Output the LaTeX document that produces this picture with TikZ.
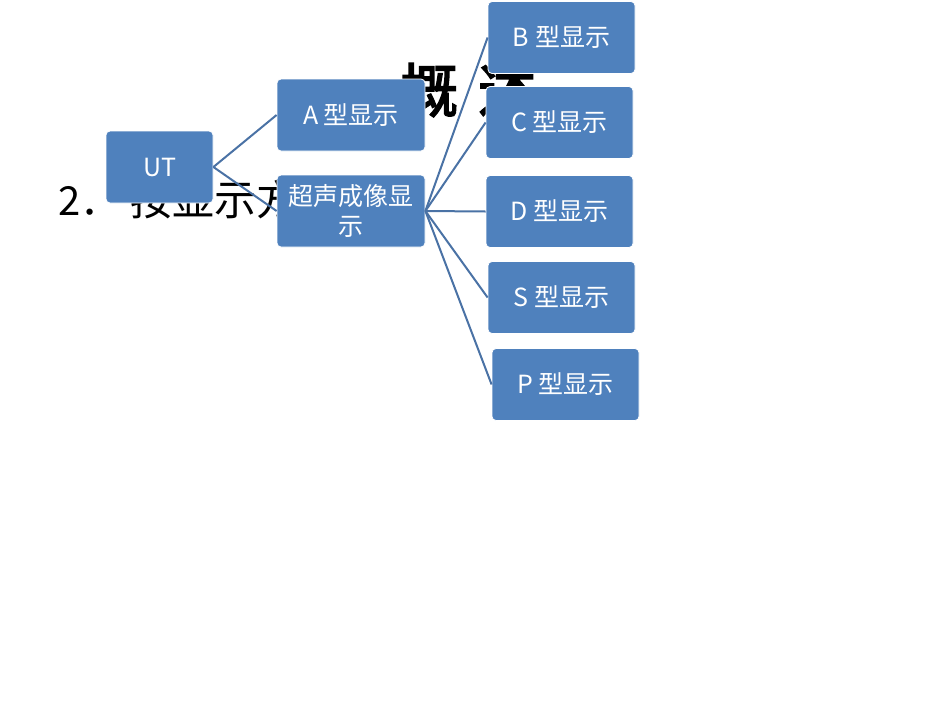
\documentclass[tikz,border=0pt]{standalone}
\usepackage{fontspec}
\setmainfont{Noto Sans CJK SC}
\newfontfamily\cjkb[FakeBold=3]{Noto Sans CJK SC}
\begin{document}
\begin{tikzpicture}[x=1pt,y=-1pt,
  bx/.style={draw=white,line width=0.8pt,fill={rgb,255:red,79;green,129;blue,189},rounded corners=4pt,text=white,align=center,inner sep=0pt,font=\fontsize{25}{30}\selectfont},
  ln/.style={draw={rgb,255:red,74;green,114;blue,165},line width=2pt}]
\useasboundingbox (0,0) rectangle (950,713);
\node[anchor=base west,font=\fontsize{40}{42}\selectfont,inner sep=0] (t2a) at (58,215) {2．};
\node[anchor=base west,font=\fontsize{42}{44}\selectfont,inner sep=0] (t2) at (130,215) {按显示方式分：};
\node[anchor=base west,font=\cjkb\fontsize{58}{60}\selectfont,inner sep=0] (t1) at (400,112) {概\hspace{20pt}述};
\node[bx,minimum width=107,minimum height=72] (ut) at (159.5,167) {UT};
\node[bx,minimum width=148,minimum height=72] (a) at (351,115) {A 型显示};
\node[bx,minimum width=148,minimum height=72,text width=146] (us) at (351,211) {超声成像显\\示};
\node[bx,minimum width=147,minimum height=72] (b) at (561.5,37.5) {B 型显示};
\node[bx,minimum width=147,minimum height=72] (c) at (559.5,122.5) {C 型显示};
\node[bx,minimum width=147,minimum height=72] (d) at (559.5,211.5) {D 型显示};
\node[bx,minimum width=147,minimum height=72] (s) at (561.5,297.5) {S 型显示};
\node[bx,minimum width=147,minimum height=72] (p) at (565.5,384.5) {P 型显示};
\draw[ln] (ut.east) -- (a.west);
\draw[ln] (ut.east) -- (us.west);
\foreach \n in {b,c,d,s,p} \draw[ln] (us.east) -- (\n.west);
\end{tikzpicture}
\end{document}
